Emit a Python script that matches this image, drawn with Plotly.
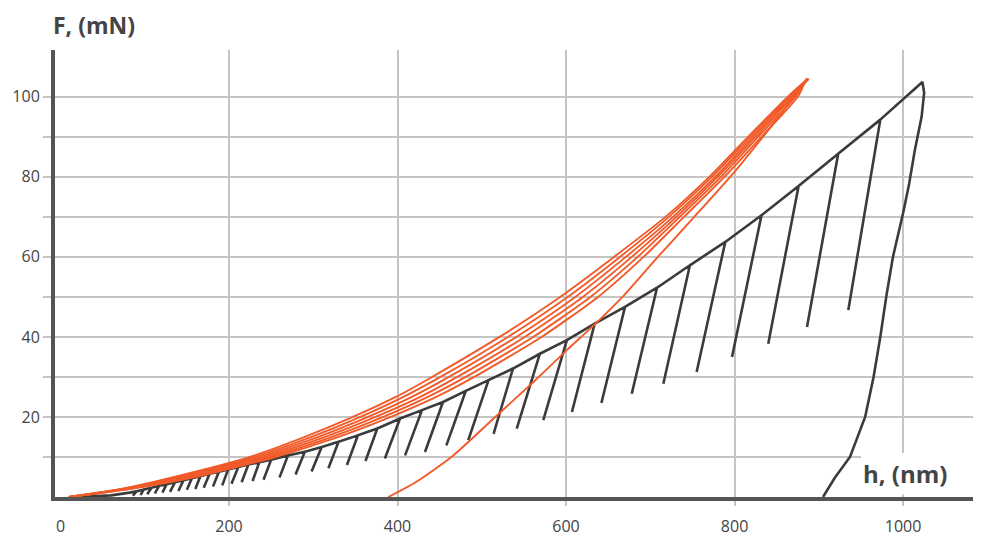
import plotly.graph_objects as go

# ---------------- data ----------------
# dark curve: start of loading, peaks of partial unloads, bottoms of partial unloads
dark_start_x = [20, 60, 82]
dark_start_y = [0, 0.4, 1.1]

peak_x = [90, 99, 108, 117, 126, 136, 146, 156, 166, 177, 188, 199, 211, 223, 236, 250,
          270, 290, 310, 330, 353, 376,
          403, 429, 454, 481, 508, 537, 569, 601, 634, 670, 708, 747, 789, 832, 876, 923, 973]
peak_y = [1.4, 1.9, 2.3, 2.8, 3.2, 3.7, 4.2, 4.7, 5.2, 5.8, 6.3, 6.9, 7.5, 8.1, 8.7, 9.3,
          10.4, 11.3, 12.5, 13.8, 15.4, 17.1,
          19.6, 21.7, 23.75, 26.5, 29.2, 32.1, 35.8, 39.2, 43.3, 47.5, 52.3, 57.9, 63.75, 70.4, 77.7, 85.8, 94.3]
bottom_x = [86, 95, 103, 112, 121, 130, 140, 150, 160, 170, 181, 192, 203, 215, 228, 241,
            260, 279, 298, 318, 340, 362,
            385, 409, 432.6, 458, 484, 514, 541.5, 573, 607, 642, 678, 715.5, 755, 797, 840, 886, 935]
bottom_y = [0.3, 0.5, 0.7, 0.9, 1.1, 1.3, 1.5, 1.8, 2.0, 2.3, 2.6, 2.9, 3.3, 3.7, 4.0, 4.3,
            4.9, 5.6, 6.4, 7.2, 8.0, 9.0,
            9.6, 10.4, 11.25, 12.9, 14.2, 15.8, 17.1, 19.2, 21.25, 23.5, 25.8, 28.3, 31.25, 35, 38.3, 42.5, 46.7]

# final full unloading of the dark curve
final_x = [1023, 1025, 1022, 1014, 1007, 1000, 988, 980, 973, 965, 955, 937, 919, 905]
final_y = [103.7, 101, 95, 86.7, 78, 70.9, 60, 50, 40, 30, 20, 10, 4.8, 0]

# orange: several loading curves (x at common load levels) and one unloading curve
orange_levels = [0, 2, 5, 10, 15, 20, 25, 30, 40, 50, 60, 70, 80, 90, 100, 104.5]
orange_load_A = [10, 72, 135, 225, 290, 347, 398, 441, 521, 593, 657, 718, 770, 816, 863, 887]
orange_load_B = [10, 74, 140, 231, 298, 356, 407, 451, 531, 602, 664, 722, 773, 819, 865, 888]
orange_load_C = [10, 76, 145, 237, 306, 365, 417, 461, 541, 611, 671, 727, 777, 822, 867, 888]
orange_load_D = [10, 78, 150, 243, 314, 374, 427, 471, 551, 620, 678, 731, 780, 825, 869, 887]
orange_load_E = [10, 80, 155, 249, 322, 383, 436, 481, 561, 629, 685, 735, 784, 828, 872, 886]
orange_load_F = [10, 82, 160, 255, 330, 392, 446, 491, 571, 638, 692, 740, 788, 832, 875, 885]

orange_unload_x = [887, 845, 799, 750, 709, 667, 636, 600, 560, 516, 464, 420, 389]
orange_unload_y = [104.6, 93, 81, 69.5, 60, 50, 43.5, 36.5, 28.5, 20, 10, 3.5, 0]

x_ticks = [0, 200, 400, 600, 800, 1000]
x_grid = [200, 400, 600, 800, 1000]
y_ticks = [20, 40, 60, 80, 100]
y_minor = [10, 30, 50, 70, 90]

DARK = "#3b3b3b"
ORANGE = "#f15a29"
GRID = "#c4c4c4"
AXIS = "#555555"
TXT = "#444444"

# ---------------- build dark polyline ----------------
dx = list(dark_start_x)
dy = list(dark_start_y)
for px_, py_, bx_, by_ in zip(peak_x, peak_y, bottom_x, bottom_y):
    dx += [px_, bx_, px_]
    dy += [py_, by_, py_]
dx += final_x
dy += final_y

fig = go.Figure()
fig.add_trace(go.Scatter(x=dx, y=dy, mode="lines",
                         line=dict(color=DARK, width=2.6), hoverinfo="skip"))

for cx in [orange_load_A, orange_load_B, orange_load_C, orange_load_D, orange_load_E, orange_load_F]:
    fig.add_trace(go.Scatter(x=cx, y=orange_levels, mode="lines",
                             line=dict(color=ORANGE, width=1.9, shape="spline", smoothing=0.6),
                             hoverinfo="skip"))
fig.add_trace(go.Scatter(x=orange_unload_x, y=orange_unload_y, mode="lines",
                         line=dict(color=ORANGE, width=1.9, shape="spline", smoothing=0.6),
                         hoverinfo="skip"))

# white box behind the h label (covers grid)
fig.add_shape(type="rect", xref="x", yref="y", x0=950, x1=1083, y0=0.6, y1=11,
              fillcolor="white", line=dict(width=0), layer="between")

fig.add_annotation(text="<b>h, (nm)</b>", xref="x", yref="y", x=1002, y=5.9,
                   showarrow=False, font=dict(family="Open Sans", size=24, color=TXT),
                   xanchor="center", yanchor="middle")
fig.add_annotation(text="<b>F, (mN)</b>", xref="paper", yref="paper", x=-0.004, y=1.057,
                   showarrow=False, font=dict(family="Open Sans", size=23, color=TXT),
                   xanchor="left", yanchor="middle")

fig.update_xaxes(range=[-6.5, 1083], tickvals=x_ticks, showgrid=False, zeroline=False,
                 showline=True, linecolor=AXIS, linewidth=4, ticks="",
                 ticklabelstandoff=12, automargin=False,
                 tickfont=dict(family="Open Sans", size=16, color=TXT),
                 minor=dict(tickvals=x_grid, showgrid=True, gridcolor=GRID, gridwidth=2,
                            ticks="outside", ticklen=5, tickcolor=GRID, tickwidth=2))
fig.update_yaxes(range=[0, 111.7], tickvals=y_ticks, showgrid=True, gridcolor=GRID, gridwidth=2,
                 zeroline=False, showline=True, linecolor=AXIS, linewidth=4,
                 ticks="outside", ticklen=8, tickcolor=GRID, tickwidth=2, automargin=False,
                 tickfont=dict(family="Open Sans", size=16, color=TXT),
                 minor=dict(tickvals=y_minor, showgrid=True, gridcolor=GRID, gridwidth=2,
                            ticks="outside", ticklen=8, tickcolor=GRID, tickwidth=2))

fig.update_layout(width=983, height=533, showlegend=False,
                  plot_bgcolor="white", paper_bgcolor="white",
                  margin=dict(l=47, r=18, t=42, b=44))

fig.write_html("out.html")
